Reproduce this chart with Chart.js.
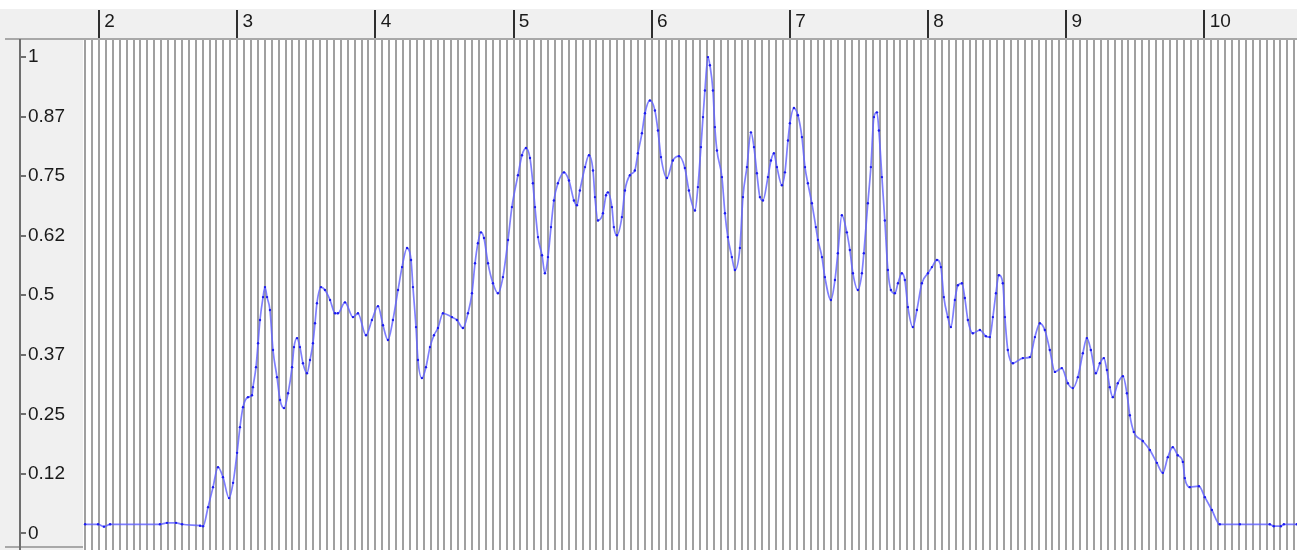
<!DOCTYPE html>
<html>
<head>
<meta charset="utf-8">
<script src="https://cdn.jsdelivr.net/npm/chart.js@4.4.1/dist/chart.umd.min.js"></script>
<style>
  html, body { margin: 0; padding: 0; background: #fff; }
  #wave { display: block; }
</style>
</head>
<body>
<canvas id="wave" width="1297" height="550"></canvas>
<script>
// sample times (s)
const times = [
    1.899, 1.993, 2.036, 2.080, 2.441, 2.492, 2.557, 2.601, 2.731, 2.753,
    2.789, 2.825, 2.861, 2.897, 2.941, 2.970, 2.999, 3.020, 3.042, 3.078,
    3.107, 3.114, 3.136, 3.151, 3.165, 3.187, 3.201, 3.216, 3.237, 3.259,
    3.288, 3.310, 3.339, 3.368, 3.397, 3.411, 3.433, 3.454, 3.476, 3.505,
    3.527, 3.548, 3.563, 3.577, 3.606, 3.635, 3.672, 3.708, 3.729, 3.780,
    3.838, 3.874, 3.932, 3.975, 4.019, 4.055, 4.091, 4.127, 4.164, 4.193,
    4.229, 4.258, 4.272, 4.294, 4.308, 4.337, 4.366, 4.395, 4.424, 4.453,
    4.489, 4.554, 4.590, 4.634, 4.670, 4.699, 4.721, 4.742, 4.764, 4.786,
    4.815, 4.851, 4.887, 4.923, 4.960, 4.988, 5.032, 5.061, 5.090, 5.119,
    5.140, 5.155, 5.177, 5.206, 5.227, 5.249, 5.271, 5.292, 5.321, 5.365,
    5.401, 5.437, 5.459, 5.480, 5.517, 5.546, 5.575, 5.589, 5.611, 5.647,
    5.669, 5.683, 5.712, 5.726, 5.748, 5.784, 5.806, 5.842, 5.878, 5.900,
    5.929, 5.951, 5.987, 6.023, 6.045, 6.067, 6.110, 6.153, 6.197, 6.240,
    6.269, 6.313, 6.334, 6.356, 6.371, 6.385, 6.407, 6.421, 6.443, 6.457,
    6.472, 6.508, 6.530, 6.551, 6.580, 6.602, 6.638, 6.660, 6.689, 6.718,
    6.740, 6.761, 6.783, 6.805, 6.841, 6.863, 6.884, 6.906, 6.942, 6.964,
    6.986, 7.000, 7.029, 7.058, 7.087, 7.109, 7.130, 7.159, 7.188, 7.203,
    7.232, 7.253, 7.297, 7.326, 7.347, 7.376, 7.412, 7.434, 7.456, 7.492,
    7.521, 7.535, 7.564, 7.586, 7.608, 7.630, 7.644, 7.666, 7.687, 7.709,
    7.731, 7.760, 7.782, 7.810, 7.832, 7.854, 7.890, 7.919, 7.955, 7.999,
    8.028, 8.064, 8.093, 8.114, 8.143, 8.165, 8.194, 8.216, 8.245, 8.266,
    8.288, 8.324, 8.375, 8.418, 8.447, 8.469, 8.491, 8.512, 8.541, 8.556,
    8.577, 8.614, 8.686, 8.737, 8.773, 8.809, 8.845, 8.881, 8.918, 8.968,
    9.012, 9.048, 9.084, 9.120, 9.149, 9.178, 9.214, 9.243, 9.272, 9.294,
    9.315, 9.337, 9.373, 9.410, 9.439, 9.460, 9.489, 9.554, 9.605, 9.656,
    9.699, 9.735, 9.771, 9.807, 9.844, 9.858, 9.894, 9.960, 10.003, 10.054,
    10.111, 10.256, 10.473, 10.502, 10.553, 10.575, 10.669
];

// normalised level at each sample
const levels = [
    0.019, 0.019, 0.014, 0.019, 0.019, 0.022, 0.022, 0.019, 0.016, 0.015,
    0.055, 0.097, 0.139, 0.118, 0.074, 0.106, 0.169, 0.223, 0.265, 0.286,
    0.290, 0.307, 0.349, 0.399, 0.448, 0.496, 0.517, 0.496, 0.469, 0.385,
    0.328, 0.280, 0.263, 0.294, 0.349, 0.391, 0.410, 0.391, 0.357, 0.336,
    0.364, 0.399, 0.441, 0.483, 0.517, 0.511, 0.490, 0.462, 0.462, 0.485,
    0.454, 0.462, 0.416, 0.448, 0.477, 0.437, 0.406, 0.448, 0.511, 0.559,
    0.599, 0.574, 0.517, 0.433, 0.364, 0.326, 0.349, 0.391, 0.416, 0.431,
    0.462, 0.454, 0.448, 0.431, 0.462, 0.504, 0.567, 0.609, 0.632, 0.620,
    0.567, 0.525, 0.504, 0.538, 0.616, 0.685, 0.752, 0.794, 0.809, 0.788,
    0.735, 0.685, 0.622, 0.584, 0.546, 0.580, 0.643, 0.699, 0.735, 0.758,
    0.741, 0.699, 0.689, 0.720, 0.769, 0.794, 0.762, 0.706, 0.657, 0.672,
    0.710, 0.716, 0.685, 0.643, 0.626, 0.664, 0.720, 0.752, 0.762, 0.798,
    0.840, 0.882, 0.909, 0.888, 0.846, 0.790, 0.746, 0.783, 0.792, 0.767,
    0.720, 0.678, 0.727, 0.811, 0.874, 0.930, 1.000, 0.983, 0.930, 0.853,
    0.804, 0.748, 0.672, 0.622, 0.580, 0.553, 0.599, 0.706, 0.769, 0.842,
    0.811, 0.756, 0.706, 0.699, 0.748, 0.783, 0.798, 0.769, 0.731, 0.758,
    0.825, 0.861, 0.893, 0.878, 0.832, 0.769, 0.735, 0.693, 0.643, 0.616,
    0.580, 0.538, 0.490, 0.532, 0.588, 0.668, 0.632, 0.595, 0.546, 0.511,
    0.546, 0.588, 0.693, 0.769, 0.874, 0.884, 0.846, 0.748, 0.657, 0.553,
    0.511, 0.504, 0.525, 0.546, 0.532, 0.475, 0.433, 0.469, 0.525, 0.546,
    0.559, 0.574, 0.559, 0.496, 0.454, 0.433, 0.490, 0.521, 0.525, 0.494,
    0.448, 0.420, 0.427, 0.414, 0.412, 0.454, 0.504, 0.542, 0.525, 0.454,
    0.385, 0.357, 0.368, 0.370, 0.412, 0.441, 0.427, 0.385, 0.339, 0.347,
    0.315, 0.305, 0.328, 0.378, 0.410, 0.385, 0.336, 0.357, 0.368, 0.343,
    0.307, 0.286, 0.315, 0.330, 0.294, 0.248, 0.213, 0.194, 0.175, 0.148,
    0.127, 0.160, 0.181, 0.164, 0.150, 0.116, 0.097, 0.099, 0.076, 0.049,
    0.019, 0.019, 0.019, 0.015, 0.015, 0.019, 0.019
];

const secondLabels = [2, 3, 4, 5, 6, 7, 8, 9, 10];
const levelTicks = [0, 0.125, 0.25, 0.375, 0.5, 0.625, 0.75, 0.875, 1];

const labelFont = { family: "'Liberation Sans Narrow', 'Liberation Sans', Arial, sans-serif", size: 19 };

// fine vertical grid every 0.05 s
const gridStops = [];
for (let i = 38; i <= 213; i++) gridStops.push(Number((i * 0.05).toFixed(2)));

function isWhole(v) {
    return Math.abs(v - Math.round(v)) < 1e-6;
}

// grey side panels, left ruler line and its ticks
const panels = {
    id: 'panels',
    beforeDraw(chart) {
        const ctx = chart.ctx;
        const area = chart.chartArea;
        ctx.save();
        ctx.fillStyle = '#ffffff';
        ctx.fillRect(0, 0, chart.width, chart.height);
        ctx.fillStyle = '#f0f0f0';
        ctx.fillRect(0, 9, chart.width, area.top - 9);
        ctx.fillRect(0, area.top, area.left, chart.height - area.top);
        ctx.restore();
    },
    afterDraw(chart) {
        const ctx = chart.ctx;
        const area = chart.chartArea;
        const yScale = chart.scales.y;
        ctx.save();
        ctx.strokeStyle = '#a8a8a8';
        ctx.lineWidth = 2;
        ctx.beginPath();
        ctx.moveTo(5, area.top);
        ctx.lineTo(area.left, area.top);
        ctx.moveTo(5, 547);
        ctx.lineTo(area.left, 547);
        ctx.stroke();

        ctx.strokeStyle = '#6e6e6e';
        ctx.beginPath();
        ctx.moveTo(20, area.top);
        ctx.lineTo(20, chart.height);
        yScale.ticks.forEach(t => {
            const py = Math.round(yScale.getPixelForValue(t.value));
            ctx.moveTo(20, py);
            ctx.lineTo(26, py);
        });
        ctx.stroke();
        ctx.restore();
    }
};

new Chart(document.getElementById('wave'), {
    type: 'line',
    data: {
        datasets: [{
            data: times.map((t, i) => ({ x: t, y: levels[i] })),
            borderColor: 'rgba(95, 95, 255, 0.8)',
            borderWidth: 1.7,
            pointRadius: 1.2,
            pointBorderWidth: 0,
            pointBackgroundColor: '#1c1cf0',
            cubicInterpolationMode: 'monotone',
            fill: false
        }]
    },
    options: {
        responsive: false,
        animation: false,
        devicePixelRatio: 1,
        layout: { autoPadding: false, padding: { left: 28, top: 0, right: 0, bottom: 0 } },
        plugins: {
            legend: { display: false },
            tooltip: { enabled: false }
        },
        scales: {
            x: {
                type: 'linear',
                position: 'top',
                min: 1.884,
                max: 10.67,
                afterBuildTicks: scale => {
                    scale.ticks = gridStops.map(v => ({ value: v }));
                },
                afterFit: scale => {
                    scale.height = 39;
                    scale.paddingLeft = 0;
                    scale.paddingRight = 0;
                },
                grid: {
                    color: '#a0a0a0',
                    lineWidth: 2,
                    tickLength: 29,
                    tickWidth: 2,
                    tickColor: ctx => (ctx.tick && isWhole(ctx.tick.value)) ? '#2e2e2e' : 'rgba(0,0,0,0)'
                },
                border: { display: true, color: '#a8a8a8', width: 2 },
                ticks: {
                    autoSkip: false,
                    maxRotation: 0,
                    minRotation: 0,
                    align: 'start',
                    padding: -23,
                    color: '#1a1a1a',
                    font: labelFont,
                    callback: v => {
                        const r = Math.round(v);
                        return (isWhole(v) && secondLabels.includes(r)) ? ' ' + r : '';
                    }
                }
            },
            y: {
                type: 'linear',
                position: 'left',
                min: -0.035,
                max: 1.038,
                afterBuildTicks: scale => {
                    scale.ticks = levelTicks.map(v => ({ value: v }));
                },
                afterFit: scale => {
                    scale.width = 55;
                    scale.paddingTop = 0;
                    scale.paddingBottom = 0;
                },
                grid: { display: false },
                border: { display: false },
                ticks: {
                    crossAlign: 'far',
                    padding: 0,
                    color: '#1a1a1a',
                    font: labelFont,
                    callback: v => String(Math.floor(v * 100 + 1e-6) / 100)
                }
            }
        }
    },
    plugins: [panels]
});
</script>
</body>
</html>
